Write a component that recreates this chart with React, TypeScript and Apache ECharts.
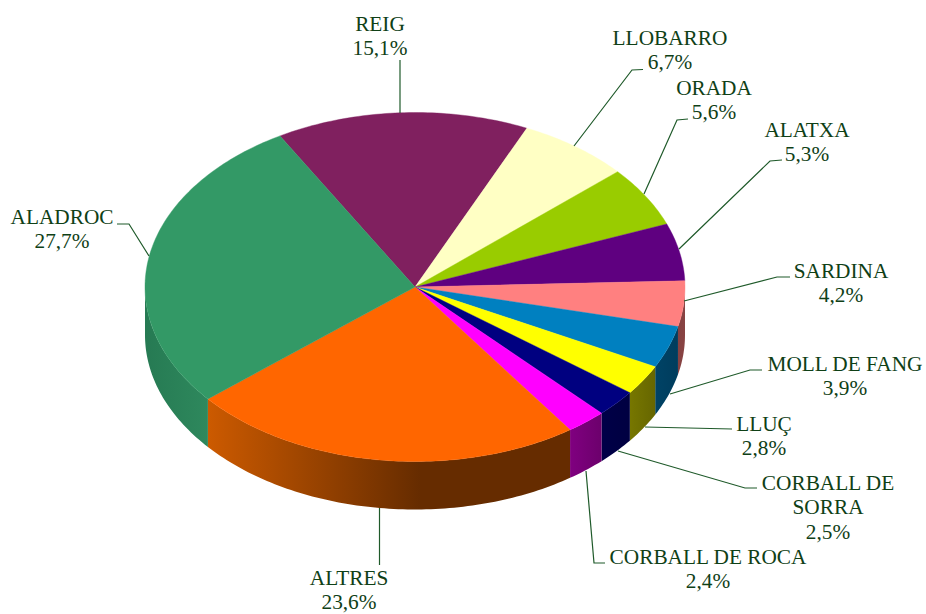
import React, { useEffect, useRef } from "react";
import * as echarts from "echarts";

const categories = ["REIG", "LLOBARRO", "ORADA", "ALATXA", "SARDINA", "MOLL DE FANG", "LLUÇ", "CORBALL DE SORRA", "CORBALL DE ROCA", "ALTRES", "ALADROC"];
const shares = [15.1, 6.7, 5.6, 5.3, 4.2, 3.9, 2.8, 2.5, 2.4, 23.6, 27.7];
const labelTexts = ["REIG\n15,1%", "LLOBARRO\n6,7%", "ORADA\n5,6%", "ALATXA\n5,3%", "SARDINA\n4,2%", "MOLL DE FANG\n3,9%", "LLUÇ\n2,8%", "CORBALL DE\nSORRA\n2,5%", "CORBALL DE ROCA\n2,4%", "ALTRES\n23,6%", "ALADROC\n27,7%"];

const topColors = ["#80205f", "#ffffc4", "#99cc00", "#5f0080", "#ff8080", "#0080c0", "#ffff00", "#000080", "#ff00ff", "#ff6600", "#339966"];
const wallStops: string[][] = [
  ["#80205f", "#80205f"], ["#ffffc4", "#ffffc4"], ["#99cc00", "#99cc00"], ["#5f0080", "#5f0080"],
  ["#7a3a3a", "#8a4444"], ["#004a70", "#003c5c"], ["#7a7a00", "#636300"], ["#000048", "#000040"],
  ["#800080", "#6a006a"], ["#cc5a00", "#662c00"], ["#267a53", "#2f8a5e"],
];
// Gradient span of each side wall, as page x
const wallSpans = [[0, 1], [0, 1], [0, 1], [0, 1], [650, 690], [630, 680], [625, 660], [600, 635], [570, 605], [208, 420], [145, 215]];

const labelCenters = [[380, 36], [670, 50], [714, 100], [807, 142], [841, 283], [845, 376], [764, 436], [828, 507], [708, 569], [349, 590], [62, 229]];
const leaders = [
  [[400, 60], [400, 113]],
  [[574, 146], [632, 70], [643, 69.5]],
  [[644, 194], [677, 120], [688, 119]],
  [[679, 249], [770, 161], [782, 160]],
  [[684, 301], [777, 277], [790, 277]],
  [[670, 394], [750, 370], [762, 370]],
  [[645, 427], [732, 429]],
  [[618, 451], [745, 488], [757, 488]],
  [[586, 471], [594, 563], [605, 563]],
  [[379.5, 508], [379.5, 565]],
  [[149, 256], [129, 224], [117, 224]],
];

const CX = 415, CY = 287, RX = 270, RY = 174.5, DEPTH = 48, START = -30;
const total = shares.reduce((a, b) => a + b, 0);
const pt = (deg: number, dy = 0) => {
  const r = (deg * Math.PI) / 180;
  return [CX + RX * Math.sin(r), CY - RY * Math.cos(r) + dy];
};
const arc = (a: number, b: number, dy = 0) => {
  const n = Math.max(2, Math.ceil(Math.abs(b - a)));
  const out: number[][] = [];
  for (let i = 0; i <= n; i++) out.push(pt(a + ((b - a) * i) / n, dy));
  return out;
};

function renderSlice(params: any, api: any) {
  const i = params.dataIndex;
  const before = shares.slice(0, i).reduce((a, b) => a + b, 0);
  const a = START + (before / total) * 360;
  const b = a + ((api.value(0) as number) / total) * 360;
  const children: any[] = [];
  const wa = Math.max(a, 90), wb = Math.min(b, 270);
  if (wb > wa) {
    const [x0, x1] = wallSpans[i];
    const fill = new echarts.graphic.LinearGradient(x0, 0, x1, 0, [
      { offset: 0, color: wallStops[i][0] },
      { offset: 1, color: wallStops[i][1] },
    ], true);
    children.push({
      type: "polygon",
      shape: { points: [...arc(wa, wb), ...arc(wb, wa, DEPTH)] },
      style: { fill, stroke: null },
    });
  }
  children.push({
    type: "polygon",
    shape: { points: [[CX, CY], ...arc(a, b)] },
    style: { fill: topColors[i], stroke: topColors[i], lineWidth: 0.4 },
  });
  children.push({
    type: "polyline",
    shape: { points: leaders[i] },
    style: { fill: null, stroke: "#1f5a2a", lineWidth: 1.2 },
  });
  children.push({
    type: "text",
    x: labelCenters[i][0],
    y: labelCenters[i][1],
    style: {
      text: labelTexts[i],
      fill: "#0f4016",
      font: '21.3px "Liberation Serif"',
      lineHeight: 24.5,
      align: "center",
      verticalAlign: "middle",
    },
  });
  return { type: "group", children };
}

export default function App() {
  const ref = useRef<HTMLDivElement>(null);
  useEffect(() => {
    document.body.style.margin = "0";
    const chart = echarts.init(ref.current!, undefined, { renderer: "svg" });
    chart.setOption({
      animation: false,
      backgroundColor: "#ffffff",
      series: [{
        type: "custom",
        coordinateSystem: "none",
        renderItem: renderSlice,
        data: categories.map((name, i) => ({ name, value: [shares[i]] })),
      }],
    });
    return () => chart.dispose();
  }, []);
  return <div ref={ref} style={{ width: 926, height: 614 }} />;
}
